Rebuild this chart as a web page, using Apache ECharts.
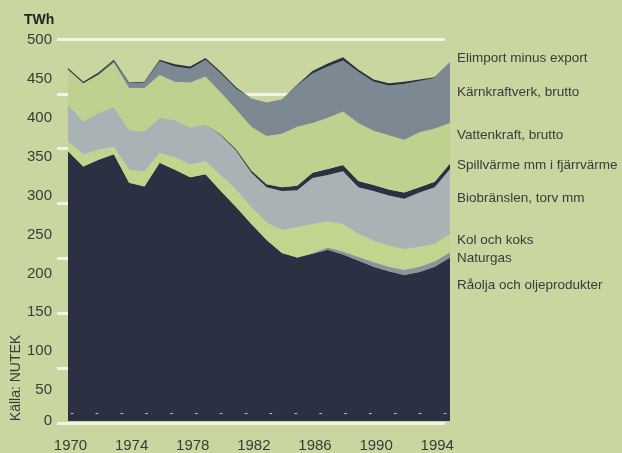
<!DOCTYPE html>
<html>
<head>
<meta charset="utf-8">
<script src="https://cdn.jsdelivr.net/npm/echarts@6/dist/echarts.min.js"></script>
<style>
  html, body { margin: 0; padding: 0; background: #c9d69f; }
  #chart { width: 622px; height: 453px; }
</style>
</head>
<body>
<div id="chart"></div>
<script>
// TWh per year (stacked bottom to top)
const years = ['1970', '1971', '1972', '1973', '1974', '1975', '1976', '1977', '1978', '1979',
  '1980', '1981', '1982', '1983', '1984', '1985', '1986', '1987', '1988', '1989',
  '1990', '1991', '1992', '1993', '1994', '1995']

const raolja = [353, 333, 342, 349, 312, 307, 338, 329, 319, 323, 301, 280, 258, 237, 220, 214, 219, 224, 218, 210, 202, 196, 191, 195, 202, 214]
const naturgas = [0, 0, 0, 0, 0, 0, 0, 0, 0, 0, 0, 0, 0, 0, 0, 0, 1, 3, 4, 5, 6, 6, 7, 7, 7, 7]
const kol = [13, 16, 13, 10, 17, 20, 13, 16, 17, 17, 21, 23, 22, 23, 30, 40, 38, 34, 36, 30, 28, 28, 27, 26, 23, 24]
const bio = [48, 43, 48, 52, 52, 52, 46, 49, 48, 48, 52, 51, 45, 46, 51, 48, 60, 61, 69, 61, 65, 65, 66, 71, 74, 85]
const spill = [0, 0, 0, 0, 0, 0, 0, 0, 0, 0, 1, 2, 3, 4, 5, 6, 7, 8, 8, 8, 8, 8, 8, 7, 7, 7]
const vatten = [46, 50, 50, 58, 55, 57, 56, 50, 59, 63, 55, 52, 57, 63, 70, 77, 65, 67, 70, 76, 71, 71, 69, 72, 70, 53]
const karn = [0, 0, 1, 2, 6, 7, 18, 20, 18, 22, 25, 27, 37, 44, 45, 54, 65, 67, 67, 67, 64, 65, 73, 67, 66, 80]
const elimport = [2, 2, 2, 2, 1, 1, 2, 3, 3, 2, 2, 2, 0, 0, 0, 1, 3, 4, 4, 3, 3, 3, 3, 2, 1, 0]

const yTicks = [0, 50, 100, 150, 200, 250, 300, 350, 400, 450, 500]

const layers = [
  { name: 'Råolja och oljeprodukter', data: raolja, color: '#2b3142', labelY: 285 },
  { name: 'Naturgas', data: naturgas, color: '#8a949d', labelY: 258 },
  { name: 'Kol och koks', data: kol, color: '#c2d58e', labelY: 240 },
  { name: 'Biobränslen, torv mm', data: bio, color: '#a9b2b5', labelY: 198 },
  { name: 'Spillvärme mm i fjärrvärme', data: spill, color: '#2b3142', labelY: 165 },
  { name: 'Vattenkraft, brutto', data: vatten, color: '#bfd18e', labelY: 135 },
  { name: 'Kärnkraftverk, brutto', data: karn, color: '#7c8892', labelY: 92 },
  { name: 'Elimport minus export', data: elimport, color: '#2b3142', labelY: 58 },
]

const FONT = '"Liberation Sans", Arial, sans-serif'
const TEXT = '#3a3a3a'

const chart = echarts.init(document.getElementById('chart'))

chart.setOption({
  backgroundColor: '#c9d69f',
  animation: false,
  grid: [
    { left: 68, right: 172, top: 39, bottom: 30 },  // areas
    { left: 57, right: 177, top: 39, bottom: 30 },  // white rules behind
    { left: 72, right: 177, top: 39, bottom: 30 },  // little dashes near the base
    { left: 68, right: 172, top: 40, bottom: 24 },  // tick labels 50..500 sit a bit lower in the print
  ],
  xAxis: [
    {
      type: 'category',
      data: years,
      boundaryGap: false,
      axisLine: { show: false },
      axisTick: { show: false },
      axisLabel: {
        interval: 3,
        margin: 17,
        padding: [0, 0, 0, 5],
        fontFamily: FONT,
        fontSize: 15,
        color: TEXT,
      },
    },
    { gridIndex: 1, type: 'value', min: 0, max: 1, show: false },
    {
      gridIndex: 2,
      type: 'value',
      min: 0,
      max: 15,
      interval: 1,
      offset: -18,
      z: 10,
      axisLine: { show: false },
      axisTick: { show: false },
      splitLine: { show: false },
      axisLabel: {
        formatter: () => '-',
        color: '#d4d7cf',
        fontSize: 11,
        margin: 2,
      },
    },
    { gridIndex: 3, type: 'value', min: 0, max: 1, show: false },
  ],
  yAxis: [
    {
      type: 'value',
      min: 0,
      max: 500,
      interval: 50,
      axisLine: { show: false },
      axisTick: { show: false },
      splitLine: { show: false },
      axisLabel: {
        margin: 16,
        fontFamily: FONT,
        fontSize: 15,
        color: TEXT,
        formatter: (v) => (v === 0 ? '0' : ''),
      },
    },
    {
      gridIndex: 1,
      type: 'value',
      min: 0,
      max: 7,
      interval: 1,
      axisLine: { show: false },
      axisTick: { show: false },
      axisLabel: { show: false },
      splitLine: { lineStyle: { color: '#f3f4e8', width: 3 } },
    },
    { gridIndex: 2, type: 'value', show: false },
    {
      gridIndex: 3,
      type: 'value',
      min: 0,
      max: 500,
      interval: 50,
      axisLine: { show: false },
      axisTick: { show: false },
      splitLine: { show: false },
      axisLabel: {
        margin: 16,
        fontFamily: FONT,
        fontSize: 15,
        color: TEXT,
        formatter: (v) => (v > 0 && yTicks.includes(v) ? String(v) : ''),
      },
    },
  ],
  graphic: [
    {
      type: 'text',
      left: 24,
      top: 13,
      style: { text: 'TWh', font: `bold 14px ${FONT}`, fill: '#222' },
    },
    {
      type: 'text',
      x: 16,
      y: 378,
      rotation: Math.PI / 2,
      style: {
        text: 'Källa: NUTEK',
        font: `14px ${FONT}`,
        fill: TEXT,
        align: 'center',
        verticalAlign: 'middle',
      },
    },
    ...layers.map((l) => ({
      type: 'text',
      x: 457,
      y: l.labelY,
      style: {
        text: l.name,
        font: `13.5px ${FONT}`,
        fill: TEXT,
        verticalAlign: 'middle',
      },
    })),
  ],
  series: layers.map((l) => ({
    name: l.name,
    type: 'line',
    stack: 'total',
    data: l.data,
    symbol: 'none',
    lineStyle: { width: 0 },
    areaStyle: { color: l.color, opacity: 1 },
  })),
})
</script>
</body>
</html>
